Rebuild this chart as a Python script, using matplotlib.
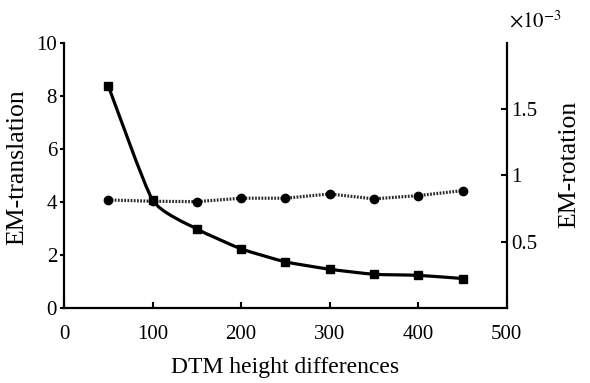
import matplotlib
matplotlib.use("Agg")
import matplotlib.pyplot as plt
from matplotlib.path import Path
from matplotlib.patches import PathPatch
from matplotlib.ticker import FixedLocator, FuncFormatter
import numpy as np

plt.rcParams["font.family"] = ["Liberation Serif", "DejaVu Serif"]
plt.rcParams["mathtext.fontset"] = "stix"

# DTM height differences
height_diff = [50, 100, 150, 200, 250, 300, 350, 400, 450]
# translation error (left axis)
em_translation = [8.38, 4.07, 2.98, 2.23, 1.74, 1.46, 1.27, 1.23, 1.11]
# rotation error, in units of 1e-3 (right axis)
em_rotation = [0.815, 0.805, 0.802, 0.828, 0.828, 0.86, 0.823, 0.848, 0.885]

x_ticks = [0, 100, 200, 300, 400, 500]
left_ticks = [0, 2, 4, 6, 8, 10]
right_ticks = [0.5, 1.0, 1.5]

TICK_FS = 15
XLABEL_FS = 17
YLABEL_FS = 18.5


def smooth_path(xs, ys, tension=0.09):
    """Smoothed path through the points, built from cubic Bezier segments."""
    pts = np.column_stack([xs, ys]).astype(float)
    n = len(pts)
    verts = [pts[0]]
    codes = [Path.MOVETO]
    for i in range(n - 1):
        p_prev = pts[i - 1] if i > 0 else pts[i]
        p0, p1 = pts[i], pts[i + 1]
        p_next = pts[i + 2] if i + 2 < n else pts[i + 1]
        c1 = p0 + (p1 - p_prev) * tension
        c2 = p1 - (p_next - p0) * tension
        verts += [c1, c2, p1]
        codes += [Path.CURVE4] * 3
    return Path(verts, codes)


fig = plt.figure(figsize=(5.9, 3.83), dpi=100)
ax = fig.add_axes([0.1085, 0.196, 0.7505, 0.692])
ax2 = ax.twinx()

# rotation: dotted line with round markers
ax2.plot(height_diff, em_rotation, color="#2a2a2a", lw=2.3,
         linestyle=(0, (0.55, 0.45)), marker="o", markersize=6,
         markerfacecolor="black", markeredgecolor="black", zorder=3)

# translation: smoothed solid line with square markers
ax.add_patch(PathPatch(smooth_path(height_diff, em_translation), facecolor="none",
                       edgecolor="black", lw=2.3, zorder=4))
ax.plot(height_diff, em_translation, linestyle="none", marker="s", markersize=5.5,
        color="black", zorder=5)
ax.set_zorder(ax2.get_zorder() + 1)
ax.patch.set_visible(False)

ax.set_xlim(0, 500)
ax.set_ylim(0, 10)
ax2.set_ylim(0, 2.0)

ax.xaxis.set_major_locator(FixedLocator(x_ticks))
ax.yaxis.set_major_locator(FixedLocator(left_ticks))
ax2.yaxis.set_major_locator(FixedLocator(right_ticks))
ax2.yaxis.set_major_formatter(FuncFormatter(lambda v, p: f"{v:g}"))

for a in (ax, ax2):
    a.spines["top"].set_visible(False)
    for s in ("left", "right", "bottom"):
        a.spines[s].set_linewidth(1.6)

ax.spines["right"].set_visible(False)
ax2.spines["left"].set_visible(False)
ax2.spines["bottom"].set_visible(False)

ax.tick_params(axis="y", direction="out", length=3, width=1.5, labelsize=TICK_FS, pad=2)
ax.tick_params(axis="x", direction="in", length=4, width=1.5, labelsize=TICK_FS, pad=12)
ax2.tick_params(axis="y", direction="in", length=4, width=1.5, labelsize=TICK_FS, pad=3)

ax.set_xlabel("DTM height differences", fontsize=XLABEL_FS, labelpad=10)
ax.set_ylabel("EM-translation", fontsize=YLABEL_FS)
ax2.set_ylabel("EM-rotation", fontsize=YLABEL_FS)
ax.yaxis.set_label_coords(-0.08, 0.532)
ax2.yaxis.set_label_coords(1.117, 0.543)

fig.text(0.862, 0.945, r"$\times10^{-3}$", fontsize=15, ha="left", va="center")

fig.savefig("out.png", dpi=100)
